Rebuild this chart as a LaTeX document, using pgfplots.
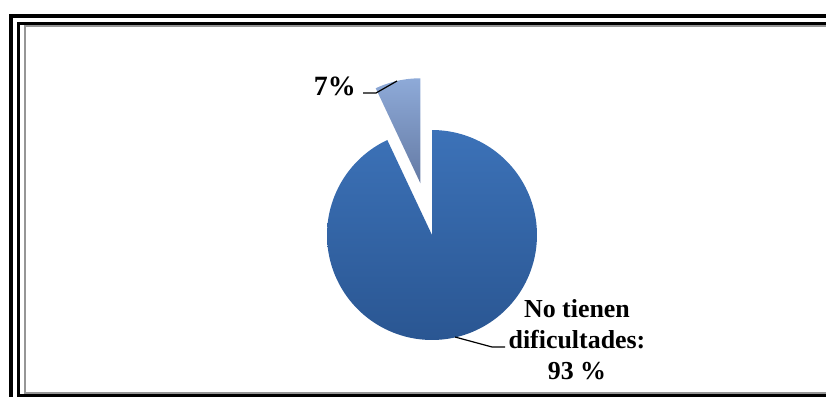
\documentclass[border=0pt]{standalone}
\usepackage{fontspec}
\setmainfont{Liberation Serif}
\usepackage{pgfplots}
\usepackage{pgfplotstable}
\pgfplotsset{compat=1.18}
\definecolor{mainTop}{RGB}{60,114,184}
\definecolor{mainBot}{RGB}{42,86,146}
\definecolor{smallTop}{RGB}{142,170,216}
\definecolor{smallBot}{RGB}{100,122,164}
\definecolor{frameGray}{RGB}{150,150,150}

\pgfplotstableread{
label value
otros 7
notienen 93
}\piedata

\begin{document}
\begin{tikzpicture}
\pgfplotstablegetelem{0}{value}\of\piedata \pgfmathsetmacro\vsmall{\pgfplotsretval}
\pgfplotstablegetelem{1}{value}\of\piedata \pgfmathsetmacro\vmain{\pgfplotsretval}
\pgfmathsetmacro\asmall{90+3.6*\vsmall}
\pgfmathsetmacro\amainend{\asmall+3.6*\vmain}
\pgfmathsetmacro\abis{90+1.8*\vsmall}
\pgfmathsetmacro\ox{432+53*cos(\abis)}
\pgfmathsetmacro\oy{162+53*sin(\abis)}
\path[use as bounding box] (0,0) rectangle (826bp,397bp);
\begin{axis}[x=1bp,y=1bp,xmin=0,xmax=826,ymin=0,ymax=397,hide axis,
  at={(0,0)},anchor=origin,clip=true]
% frame
\draw[black,line width=4bp] (axis cs:11,-20) -- (axis cs:11,381) -- (axis cs:850,381);
\draw[black,line width=3bp] (axis cs:850,1.5) -- (axis cs:18.5,1.5) -- (axis cs:18.5,373.5) -- (axis cs:850,373.5);
\draw[frameGray,line width=2bp] (axis cs:850,4.2) -- (axis cs:24.5,4.2) -- (axis cs:24.5,371) -- (axis cs:850,371);
% main slice
\addplot[draw=none,mark=none,top color=mainTop,bottom color=mainBot,
  domain=\asmall:\amainend,samples=150,variable=\t]
  ({432+105*cos(t)},{162+105*sin(t)}) -- (axis cs:432,162) -- cycle;
% small exploded slice
\addplot[draw=none,mark=none,top color=smallTop,bottom color=smallBot,
  domain=90:\asmall,samples=30,variable=\t]
  ({\ox+105*cos(t)},{\oy+105*sin(t)}) -- (axis cs:\ox,\oy) -- cycle;
% leader lines
\draw[black,line width=1.2bp] (axis cs:363,304) -- (axis cs:376,304) -- (axis cs:397,316);
\draw[black,line width=1.2bp] (axis cs:455,60) -- (axis cs:492,50) -- (axis cs:505,50);
% labels
\node[anchor=base east,inner sep=0pt,font=\fontsize{28}{34}\selectfont\bfseries] at (axis cs:356,302) {7\%};
\node[anchor=base,inner sep=0pt,font=\fontsize{26}{31}\selectfont\bfseries] at (axis cs:577,80) {No tienen};
\node[anchor=base,inner sep=0pt,font=\fontsize{26}{31}\selectfont\bfseries] at (axis cs:577,49) {dificultades:};
\node[anchor=base,inner sep=0pt,font=\fontsize{26}{31}\selectfont\bfseries] at (axis cs:577,18) {93 \%};
\end{axis}
\end{tikzpicture}
\end{document}
